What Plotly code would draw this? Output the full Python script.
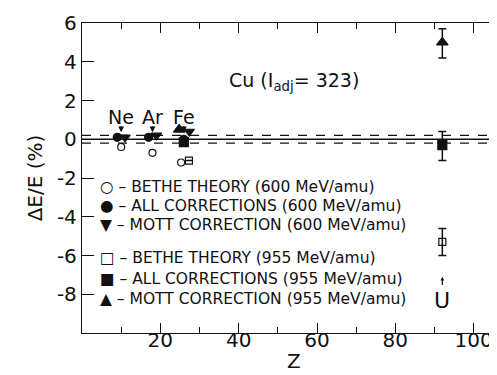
import plotly.graph_objects as go

# ---- data ----
bethe600_z = [10, 18, 25.3]
bethe600_v = [-0.4, -0.7, -1.2]
all600_z = [9, 17, 26]
all600_v = [0.1, 0.1, 0.0]
mott600_z = [11, 19, 27.4]
mott600_v = [0.1, 0.2, 0.4]
bethe955_z = [27.3, 92]
bethe955_v = [-1.1, -5.3]
bethe955_err = [0, 0.7]
all955_z = [26, 92]
all955_v = [-0.15, -0.3]
all955_err_plus = [0, 0.7]
all955_err_minus = [0, 0.8]
mott955_z = [24.8, 92]
mott955_v = [0.5, 5.0]
mott955_err_plus = [0, 0.7]
mott955_err_minus = [0, 0.8]

elements = ["Ne", "Ar", "Fe"]
element_z = [10, 18, 26]
band = [-0.2, 0.2]

legend_labels = [
    "○ – BETHE THEORY (600 MeV/amu)",
    "● – ALL CORRECTIONS (600 MeV/amu)",
    "▼ – MOTT CORRECTION (600 MeV/amu)",
    "□ – BETHE THEORY (955 MeV/amu)",
    "■ – ALL CORRECTIONS (955 MeV/amu)",
    "▲ – MOTT CORRECTION (955 MeV/amu)",
]
legend_y = [-2.45, -3.45, -4.45, -6.15, -7.2, -8.25]

xt_vals = [20, 40, 60, 80, 100]
yt_vals = [-8, -6, -4, -2, 0, 2, 4, 6]
yt_text = ["-8", "-6", "-4", "-2", "0", "2", "4", "6"]

FONT = "DejaVu Sans"
BLACK = "#111"

fig = go.Figure()

# reference lines
fig.add_hline(y=0, line=dict(color=BLACK, width=1.6))
for b in band:
    fig.add_hline(y=b, line=dict(color=BLACK, width=1.2, dash="dash"))

def add(z, v, symbol, size, err=None):
    tr = go.Scatter(x=z, y=v, mode="markers",
                    marker=dict(symbol=symbol, size=size, color=BLACK,
                                line=dict(color=BLACK, width=1.2)),
                    showlegend=False)
    if err is not None:
        tr.error_y = err
    fig.add_trace(tr)

add(bethe600_z, bethe600_v, "circle-open", 7)
add(all600_z, all600_v, "circle", 8)
add(mott600_z, mott600_v, "triangle-down", 9)
add(bethe955_z, bethe955_v, "square-open", 7,
    dict(type="data", array=bethe955_err, color=BLACK, thickness=1.5, width=4))
add(all955_z, all955_v, "square", 9,
    dict(type="data", array=all955_err_plus, arrayminus=all955_err_minus,
         color=BLACK, thickness=1.5, width=4))
add(mott955_z, mott955_v, "triangle-up", 10,
    dict(type="data", array=mott955_err_plus, arrayminus=mott955_err_minus,
         color=BLACK, thickness=1.5, width=4))

# element labels with arrows
for name, z in zip(elements, element_z):
    fig.add_annotation(x=z, y=1.15, text=name, showarrow=False,
                       font=dict(family=FONT, size=19, color=BLACK))
    fig.add_annotation(x=z, y=0.36, ax=z, ay=0.75, xref="x", yref="y",
                       axref="x", ayref="y", text="", showarrow=True,
                       arrowhead=2, arrowsize=0.9, arrowwidth=1.3, arrowcolor=BLACK)

# U label
fig.add_annotation(x=92, y=-8.3, text="U", showarrow=False,
                   font=dict(family=FONT, size=22, color=BLACK))
fig.add_annotation(x=92, y=-7.1, ax=92, ay=-7.6, xref="x", yref="y",
                   axref="x", ayref="y", text="", showarrow=True,
                   arrowhead=2, arrowsize=0.6, arrowwidth=1.2, arrowcolor=BLACK)

# Cu title
fig.add_annotation(x=54, y=3.0, text="Cu (I<sub>adj</sub>= 323)", showarrow=False,
                   font=dict(family=FONT, size=19, color=BLACK))

# legend as text
for lab, ly in zip(legend_labels, legend_y):
    fig.add_annotation(x=4.2, y=ly, text=lab, showarrow=False, xanchor="left",
                       font=dict(family=FONT, size=15.5, color=BLACK))

# x-axis title
fig.add_annotation(x=0.5, y=-0.09, xref="paper", yref="paper", text="Z",
                   showarrow=False, yanchor="middle",
                   font=dict(family=FONT, size=20, color=BLACK))

axis_common = dict(showline=True, linecolor=BLACK, linewidth=1.3, mirror="allticks",
                   ticks="inside", tickcolor=BLACK, showgrid=False, zeroline=False,
                   tickfont=dict(family=FONT, size=20, color=BLACK))

fig.update_xaxes(range=[0, 108], tickvals=xt_vals, ticklen=10, tickwidth=1.3,
                 ticklabelstandoff=-11,
                 minor=dict(dtick=10, tick0=0, ticks="inside", ticklen=6,
                            tickcolor=BLACK, tickwidth=1.2),
                 **axis_common)
fig.update_yaxes(range=[-10, 6], tickvals=yt_vals, ticktext=yt_text, ticklen=12,
                 tickwidth=1.3,
                 title=dict(text="ΔE/E (%)", font=dict(family=FONT, size=20, color=BLACK),
                            standoff=8),
                 **axis_common)

fig.update_layout(width=497, height=375, plot_bgcolor="white", paper_bgcolor="white",
                  margin=dict(l=74, r=0, t=15, b=50), showlegend=False)

fig.write_html("out.html")
